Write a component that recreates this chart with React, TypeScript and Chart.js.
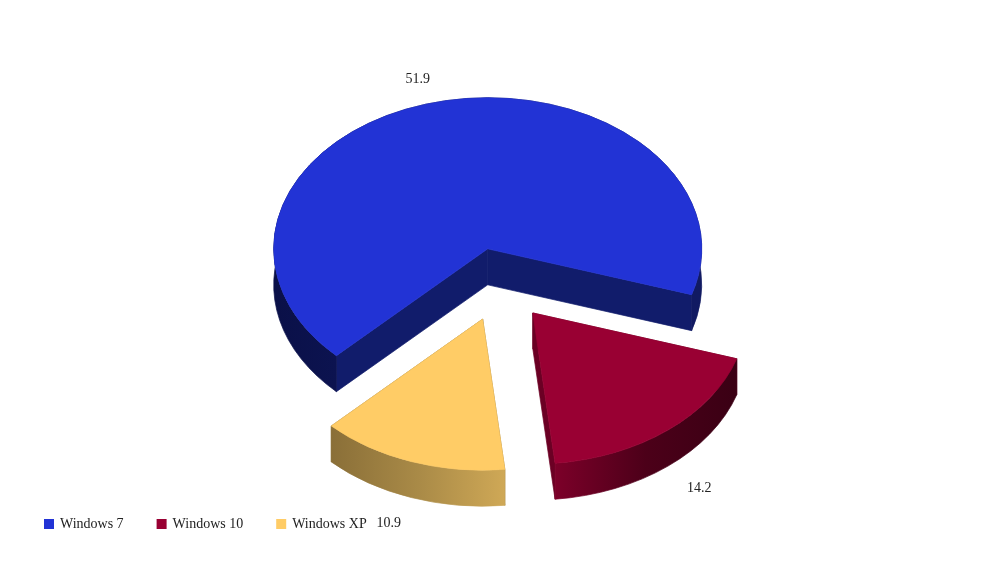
import React, { useEffect, useRef } from "react";
import { Chart, registerables } from "chart.js";

Chart.register(...registerables);

const categories = ["Windows 7", "Windows 10", "Windows XP"];
const shares = [51.9, 14.2, 10.9];
const topColors = ["#2233d5", "#990033", "#ffcc66"];
const cutWallColors = ["#111c6b", "#6b0024", "#8c7238"];
const rimLeftColors = ["#0a1048", "#7c0029", "#8a6f38"];
const rimMidColors = ["#111a62", "#4c0019", "#a98a47"];
const rimRightColors = ["#111a62", "#3a0014", "#cfa856"];

const TILT = 0.706;
const DEPTH = 36;
const EXPLODE = 52;
const LABEL_RADIUS_X = 244;
const LABEL_RADIUS_Y = 250;
const LABEL_DROP = 2;
const SEAM = 0.7;
const FONT = '"Liberation Serif", "Times New Roman", serif';

const pie3d = {
  id: "pie3d",
  beforeDatasetsDraw(chart: any) {
    const { ctx } = chart;
    const arcs = chart.getDatasetMeta(0).data;
    arcs.forEach((arc: any, i: number) => {
      const { x, y, startAngle, endAngle, outerRadius } = arc.getProps(
        ["x", "y", "startAngle", "endAngle", "outerRadius"],
        true
      );
      const mid = (startAngle + endAngle) / 2;
      const cx = x + EXPLODE * Math.cos(mid);
      const cy = y + EXPLODE * TILT * Math.sin(mid);
      const rx = outerRadius;
      const ry = outerRadius * TILT;
      const px = (a: number) => cx + rx * Math.cos(a);
      const py = (a: number) => cy + ry * Math.sin(a);

      ctx.save();
      ctx.lineWidth = SEAM;
      ctx.lineJoin = "round";
      // cut faces of the wedge
      ctx.fillStyle = cutWallColors[i];
      ctx.strokeStyle = cutWallColors[i];
      for (const a of [startAngle, endAngle]) {
        ctx.beginPath();
        ctx.moveTo(cx, cy);
        ctx.lineTo(px(a), py(a));
        ctx.lineTo(px(a), py(a) + DEPTH);
        ctx.lineTo(cx, cy + DEPTH);
        ctx.closePath();
        ctx.fill();
        ctx.stroke();
      }
      // rim of the wedge
      const xs: number[] = [];
      for (let a = startAngle; a <= endAngle; a += 0.02) {
        if (Math.sin(a) >= -0.02) xs.push(px(a));
      }
      xs.push(px(endAngle));
      const grad = ctx.createLinearGradient(Math.min(...xs), 0, Math.max(...xs), 0);
      grad.addColorStop(0, rimLeftColors[i]);
      grad.addColorStop(0.5, rimMidColors[i]);
      grad.addColorStop(1, rimRightColors[i]);
      ctx.fillStyle = grad;
      ctx.strokeStyle = grad;
      ctx.beginPath();
      ctx.ellipse(cx, cy, rx, ry, 0, startAngle, endAngle);
      ctx.ellipse(cx, cy + DEPTH, rx, ry, 0, endAngle, startAngle, true);
      ctx.closePath();
      ctx.fill();
      ctx.stroke();
      // top face
      ctx.fillStyle = arc.options.backgroundColor;
      ctx.strokeStyle = arc.options.backgroundColor;
      ctx.beginPath();
      ctx.moveTo(cx, cy);
      ctx.ellipse(cx, cy, rx, ry, 0, startAngle, endAngle);
      ctx.closePath();
      ctx.fill();
      ctx.stroke();
      // value label
      const cos = Math.cos(mid);
      const sin = Math.sin(mid);
      const lx = cx + LABEL_RADIUS_X * cos;
      const ly = cy + LABEL_RADIUS_Y * TILT * sin + (sin > 0 ? DEPTH : 0) + LABEL_DROP;
      ctx.fillStyle = "#222222";
      ctx.font = `14px ${FONT}`;
      ctx.textAlign = cos < 0 ? "right" : "left";
      ctx.textBaseline = "middle";
      ctx.fillText(shares[i].toFixed(1), lx, ly);
      ctx.restore();
    });
    return false;
  },
};

export default function App() {
  const ref = useRef<HTMLCanvasElement>(null);
  useEffect(() => {
    const chart = new Chart(ref.current as HTMLCanvasElement, {
      type: "pie",
      data: {
        labels: categories,
        datasets: [
          {
            data: shares,
            backgroundColor: topColors,
            borderColor: topColors,
            borderWidth: 2,
          },
        ],
      },
      options: {
        responsive: false,
        devicePixelRatio: 1,
        animation: false,
        rotation: 225,
        radius: 214,
        layout: { padding: { left: 11, right: 11, top: 86, bottom: 21 } },
        plugins: {
          tooltip: { enabled: false },
          title: { display: false },
          legend: {
            position: "bottom",
            align: "start",
            labels: {
              boxWidth: 8,
              boxHeight: 8,
              padding: 34,
              color: "#222222",
              font: { family: FONT, size: 14 },
            },
          },
        },
      },
      plugins: [pie3d],
    } as any);
    return () => chart.destroy();
  }, []);
  return (
    <div style={{ position: "absolute", left: 0, top: 0, width: 1000, height: 562, background: "#fff" }}>
      <canvas ref={ref} width={1000} height={562} style={{ display: "block" }} />
    </div>
  );
}
